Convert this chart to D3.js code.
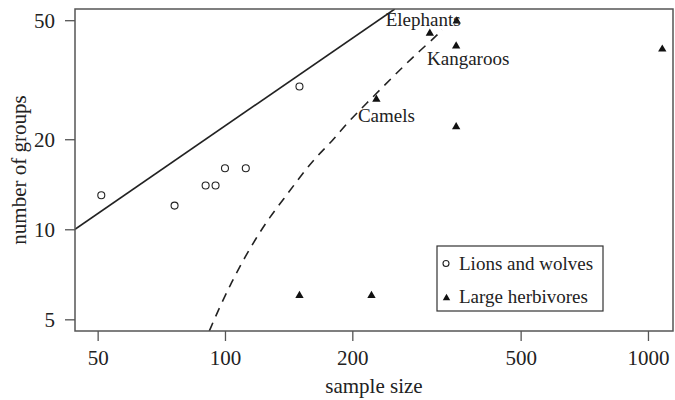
<!DOCTYPE html>
<html lang="en">
<head>
    <meta charset="UTF-8">
    <title>Groups vs sample size</title>
    <style>
        body { margin: 0; background: #fff; }
        svg text { font-family: "Liberation Serif", "DejaVu Serif", serif; fill: #222; }
    </style>
</head>
<body>
    <svg width="675" height="400"></svg>
    <script src="https://d3js.org/d3.v7.min.js"></script>
    <script>
    // lions and wolves (open circles)
    let lionSize = [51, 76, 90, 95, 100, 112, 150];
    let lionGroups = [13, 12, 14, 14, 16, 16, 30];

    // large herbivores (filled triangles)
    let herbName = ["", "Elephants", "Kangaroos", "", "Camels", "", "", ""];
    let herbSize = [305, 353, 352, 1081, 228, 352, 150, 222];
    let herbGroups = [45.2, 49.7, 41, 40, 27.2, 22, 6, 6];

    // solid line (straight on log-log), read at its two ends
    let solidSize = [44.2, 252];
    let solidGroups = [10, 54.5];

    // dashed curve read along its path
    let dashSize = [91.8, 97.8, 103.7, 110.5, 118.4, 127.1, 138.1, 149.6, 163.2, 178.7, 195.7, 216.3, 236.7, 261.7, 286.4, 316.6, 326];
    let dashGroups = [4.57, 5.61, 6.65, 7.9, 9.33, 10.9, 12.7, 14.8, 17.3, 19.6, 22.9, 26.4, 30, 34.6, 39.1, 44.4, 46.4];

    let xTicks = [50, 100, 200, 500, 1000];
    let yTicks = [5, 10, 20, 50];

    let svg = d3.select('svg');
    let mLeft = 75, mRight = 673, mTop = 9, mBottom = 331;

    let x = d3.scaleLog().domain([44.2, 1146]).range([mLeft, mRight]);
    let y = d3.scaleLog().domain([4.57, 54.5]).range([mBottom, mTop]);

    let line = d3.line()
        .x(function (d) { return x(d[0]); })
        .y(function (d) { return y(d[1]); });

    let plot = svg.append('g');
    plot.append('clipPath').attr('id', 'clip')
        .append('rect').attr('x', mLeft).attr('y', mTop).attr('width', mRight - mLeft).attr('height', mBottom - mTop);

    plot.append('path')
        .attr('clip-path', 'url(#clip)')
        .style('fill', 'none').style('stroke', '#222').style('stroke-width', 1.6)
        .attr('d', line(solidSize.map(function (s, i) { return [s, solidGroups[i]]; })));

    plot.append('path')
        .attr('clip-path', 'url(#clip)')
        .style('fill', 'none').style('stroke', '#222').style('stroke-width', 1.6)
        .style('stroke-dasharray', '9,7')
        .attr('d', line.curve(d3.curveBasis)(dashSize.map(function (s, i) { return [s, dashGroups[i]]; })));

    // frame
    plot.append('rect')
        .attr('x', mLeft).attr('y', mTop).attr('width', mRight - mLeft).attr('height', mBottom - mTop)
        .style('fill', 'none').style('stroke', '#555').style('stroke-width', 1.5);

    // axes
    let xAxis = svg.append('g').attr('transform', 'translate(0,' + mBottom + ')')
        .call(d3.axisBottom(x).tickValues(xTicks).tickFormat(d3.format('d')).tickSize(10).tickPadding(9));
    let yAxis = svg.append('g').attr('transform', 'translate(' + mLeft + ',0)')
        .call(d3.axisLeft(y).tickValues(yTicks).tickFormat(d3.format('d')).tickSize(10).tickPadding(10));
    [xAxis, yAxis].forEach(function (a) {
        a.select('.domain').remove();
        a.selectAll('line').style('stroke', '#555').style('stroke-width', 1.3);
        a.selectAll('text').style('font-family', '"Liberation Serif", serif').style('font-size', '21px').style('fill', '#222');
    });
    yAxis.selectAll('text').attr('dy', '0.36em');

    // points
    plot.selectAll('circle.lion')
        .data(lionSize)
        .enter()
        .append('circle')
        .attr('class', 'lion')
        .attr('cx', function (d) { return x(d); })
        .attr('cy', function (d, i) { return y(lionGroups[i]); })
        .attr('r', 3.5)
        .style('fill', 'none').style('stroke', '#222').style('stroke-width', 1.1);

    let tri = d3.symbol().type(d3.symbolTriangle).size(30);
    plot.selectAll('path.herb')
        .data(herbSize)
        .enter()
        .append('path')
        .attr('class', 'herb')
        .attr('d', tri)
        .attr('transform', function (d, i) { return 'translate(' + x(d) + ',' + y(herbGroups[i]) + ')'; })
        .style('fill', '#111');

    // labels
    let labelOffset = { "Elephants": [4, 5, 'end'], "Kangaroos": [12, 19, 'middle'], "Camels": [10, 23, 'middle'] };
    herbName.forEach(function (name, i) {
        if (!name) { return; }
        let o = labelOffset[name];
        plot.append('text')
            .attr('x', x(herbSize[i]) + o[0])
            .attr('y', y(herbGroups[i]) + o[1])
            .attr('text-anchor', o[2])
            .style('font-size', '19px')
            .text(name);
    });

    // axis titles
    svg.append('text')
        .attr('x', (mLeft + mRight) / 2).attr('y', 393)
        .attr('text-anchor', 'middle').style('font-size', '21px')
        .text('sample size');
    svg.append('text')
        .attr('transform', 'translate(26,' + (mTop + mBottom) / 2 + ') rotate(-90)')
        .attr('text-anchor', 'middle').style('font-size', '21px')
        .text('number of groups');

    // legend
    let legend = svg.append('g').attr('transform', 'translate(437,246)');
    legend.append('rect').attr('width', 166).attr('height', 65)
        .style('fill', '#fff').style('stroke', '#333').style('stroke-width', 1.2);
    legend.append('circle').attr('cx', 9).attr('cy', 17.5).attr('r', 3)
        .style('fill', 'none').style('stroke', '#222').style('stroke-width', 1.1);
    legend.append('text').attr('x', 22).attr('y', 23.5).style('font-size', '19px').text('Lions and wolves');
    legend.append('path').attr('d', d3.symbol().type(d3.symbolTriangle).size(24))
        .attr('transform', 'translate(9.5,52)').style('fill', '#111');
    legend.append('text').attr('x', 22).attr('y', 57).style('font-size', '19px').text('Large herbivores');
    </script>
</body>
</html>
